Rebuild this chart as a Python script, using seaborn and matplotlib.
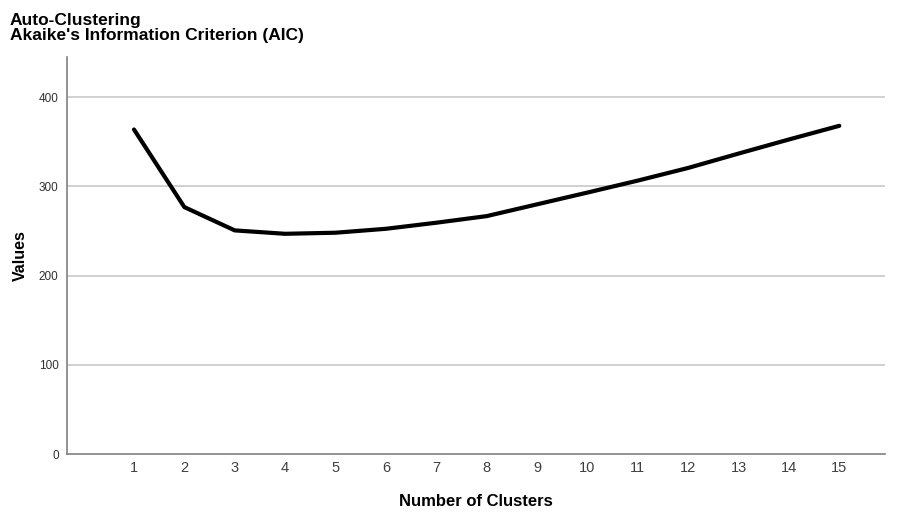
import numpy as np
import pandas as pd
import matplotlib
matplotlib.use("Agg")
import matplotlib.pyplot as plt
import seaborn as sns

# Auto-clustering AIC values
clusters = list(range(1, 16))
aic_values = [363.7, 276.7, 250.6, 246.8, 248.0, 252.4, 259.2, 266.6,
              279.8, 293.0, 306.4, 320.6, 336.7, 352.5, 367.8]
y_ticks = [0, 100, 200, 300, 400]

sns.set_theme(style="white")
plt.rcParams['font.family'] = ['Liberation Sans', 'DejaVu Sans']
plt.rcParams['text.color'] = 'black'
plt.rcParams['axes.labelcolor'] = 'black'

df = pd.DataFrame({"clusters": clusters, "aic": aic_values})

fig = plt.figure(figsize=(8.99, 5.13), dpi=100)
ax = fig.add_axes([0.0745, 0.115, 0.9095, 0.774])

# gridlines
for v in y_ticks[1:]:
    ax.axhline(v, color="#c8c8c8", linewidth=1.2, zorder=0)

sns.lineplot(data=df, x="clusters", y="aic", color="black", linewidth=3, ax=ax)

ax.set_xlim(-0.33, 15.9)
ax.set_ylim(0, 445)
ax.set_xticks(clusters)
ax.set_xticklabels([str(c) for c in clusters], fontsize=10.5, color="#404040")
ax.set_yticks(y_ticks)
ax.set_yticklabels([str(v) for v in y_ticks], fontsize=8.5, color="#303030")
ax.tick_params(axis="both", length=0)
ax.tick_params(axis="x", pad=5)
ax.tick_params(axis="y", pad=6)

for s in ["top", "right"]:
    ax.spines[s].set_visible(False)
for s in ["left", "bottom"]:
    ax.spines[s].set_color("#808080")
    ax.spines[s].set_linewidth(1.2)

ax.set_xlabel("Number of Clusters", fontsize=12, fontweight="bold", labelpad=14)
ax.set_ylabel("Values", fontsize=11.5, fontweight="bold", labelpad=8)

fig.text(0.011, 0.975, "Auto-Clustering\nAkaike's Information Criterion (AIC)",
         fontsize=12.5, fontweight="bold", va="top", ha="left", linespacing=1.05)

fig.savefig("out.png", dpi=100)
